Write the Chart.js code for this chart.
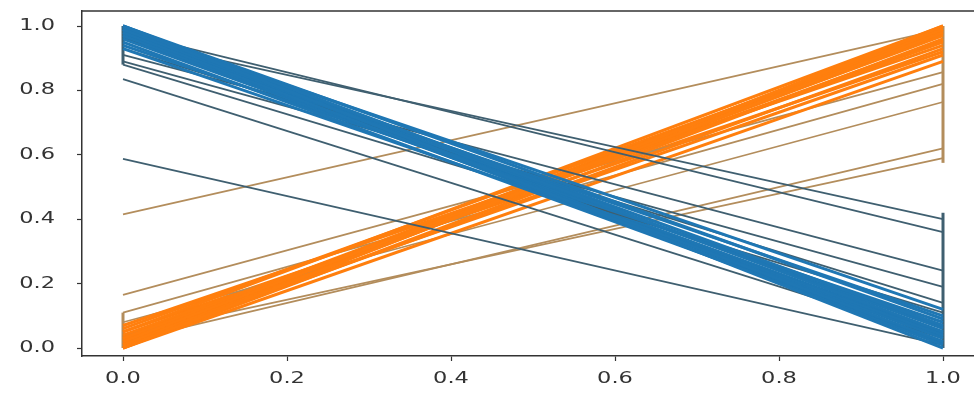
<!DOCTYPE html>
<html>
<head>
<meta charset="utf-8">
<script src="https://cdn.jsdelivr.net/npm/chart.js@4"></script>
<style>
html,body{margin:0;padding:0;background:#fff;}
#wrap{width:974px;height:393px;position:relative;}
</style>
</head>
<body>
<div id="wrap"><canvas id="c" width="974" height="393"></canvas></div>
<script>
// Blue series: value at x=0 and value at x=1
const blueStart = [1.00, 0.99, 0.98, 1.00, 0.97, 0.99, 0.96, 1.00, 0.98, 0.95, 0.97, 0.94, 0.99, 0.93, 0.96, 0.98, 0.91, 0.89, 0.93, 0.835, 0.587, 0.88, 0.995, 0.975, 0.985, 0.965];
const blueEnd   = [0.00, 0.02, 0.01, 0.05, 0.03, 0.07, 0.04, 0.09, 0.06, 0.02, 0.10, 0.08, 0.12, 0.05, 0.40, 0.36, 0.24, 0.19, 0.14, 0.03, 0.01, 0.11, 0.015, 0.045, 0.035, 0.065];
const blueOutlier = [0,0,0,0,0,0,0,0,0,0,0,0,0,0,1,1,1,1,1,1,1,1,0,0,0,0];
// Orange series: value at x=0 and value at x=1
const orangeStart = [0.00, 0.01, 0.02, 0.00, 0.03, 0.05, 0.01, 0.04, 0.02, 0.06, 0.00, 0.07, 0.03, 0.415, 0.165, 0.11, 0.08, 0.02, 0.04, 0.015, 0.05, 0.025, 0.035];
const orangeEnd   = [1.00, 0.98, 0.99, 0.96, 0.97, 1.00, 0.93, 0.95, 0.91, 0.98, 0.89, 0.94, 0.99, 0.99, 0.857, 0.82, 0.764, 0.62, 0.59, 0.975, 0.92, 0.985, 0.955];
const orangeOutlier = [0,0,0,0,0,0,0,0,0,0,0,0,0,1,1,1,1,1,1,0,0,0,0];
// Vertical connector segments [x, yFrom, yTo]
const blueVerticals = [[1, 0.0, 0.42], [0, 0.88, 1.0]];
const orangeVerticals = [[1, 0.575, 1.0], [0, 0.0, 0.11]];
// Axis ticks
const xTicks = [0.0, 0.2, 0.4, 0.6, 0.8, 1.0];
const yTicks = [0.0, 0.2, 0.4, 0.6, 0.8, 1.0];
const xTickLabels = ['0.0', '0.2', '0.4', '0.6', '0.8', '1.0'];
const yTickLabels = ['0.0', '0.2', '0.4', '0.6', '0.8', '1.0'];

const BLUE = '#1f77b4', BLUE_DARK = '#3f5f70';
const ORANGE = '#ff7f0e', ORANGE_DARK = '#b38d5c';

const datasets = [];
function seg(a, b, color, w) {
  return { data: [{x: 0, y: a}, {x: 1, y: b}], borderColor: color, borderWidth: w,
           pointRadius: 0, showLine: true, fill: false, tension: 0 };
}
blueStart.forEach((s, i) => datasets.push(seg(s, blueEnd[i], blueOutlier[i] ? BLUE_DARK : BLUE, blueOutlier[i] ? 1.8 : 3)));
orangeStart.forEach((s, i) => datasets.push(seg(s, orangeEnd[i], orangeOutlier[i] ? ORANGE_DARK : ORANGE, orangeOutlier[i] ? 1.8 : 3)));
blueVerticals.forEach(v => datasets.push({ data: [{x: v[0], y: v[1]}, {x: v[0], y: v[2]}], borderColor: BLUE_DARK, borderWidth: 3, pointRadius: 0, showLine: true }));
orangeVerticals.forEach(v => datasets.push({ data: [{x: v[0], y: v[1]}, {x: v[0], y: v[2]}], borderColor: ORANGE_DARK, borderWidth: 3, pointRadius: 0, showLine: true }));

// Draws the top frame line and horizontally stretched tick labels
const frameAndText = {
  id: 'frameAndText',
  afterDraw(chart) {
    const {ctx, chartArea} = chart;
    const xs = chart.scales.x, ys = chart.scales.y;
    ctx.save();
    ctx.strokeStyle = '#333';
    ctx.lineWidth = 1.5;
    ctx.beginPath();
    ctx.moveTo(chartArea.left, chartArea.top);
    ctx.lineTo(chartArea.right, chartArea.top);
    ctx.stroke();
    ctx.fillStyle = '#333';
    ctx.font = '15px "DejaVu Sans"';
    ctx.textBaseline = 'middle';
    const SX = 1.5;
    yTicks.forEach((v, i) => {
      ctx.save();
      ctx.translate(chartArea.left - 27, ys.getPixelForValue(v));
      ctx.scale(SX, 1);
      ctx.textAlign = 'right';
      ctx.fillText(yTickLabels[i], 0, 0);
      ctx.restore();
    });
    xTicks.forEach((v, i) => {
      ctx.save();
      ctx.translate(xs.getPixelForValue(v), chartArea.bottom + 23);
      ctx.scale(SX, 1);
      ctx.textAlign = 'center';
      ctx.fillText(xTickLabels[i], 0, 0);
      ctx.restore();
    });
    ctx.restore();
  }
};

const hidden = 'rgba(0,0,0,0)';
new Chart(document.getElementById('c'), {
  type: 'scatter',
  data: { datasets },
  options: {
    responsive: false,
    animation: false,
    layout: { padding: { top: 11, right: 0, left: 0, bottom: 0 } },
    plugins: { legend: { display: false }, tooltip: { enabled: false } },
    scales: {
      x: {
        type: 'linear', min: -0.05, max: 1.0378,
        afterBuildTicks: s => { s.ticks = xTicks.map(v => ({value: v})); },
        afterFit: s => { s.height = 37; },
        grid: { drawOnChartArea: false, tickLength: 5, color: '#333', tickWidth: 1.2 },
        border: { color: '#333', width: 1.5 },
        ticks: { color: hidden, font: { size: 2 }, padding: 4, maxRotation: 0, autoSkip: false, callback: v => v.toFixed(1) }
      },
      y: {
        type: 'linear', min: -0.0248, max: 1.0466,
        afterBuildTicks: s => { s.ticks = yTicks.map(v => ({value: v})); },
        afterFit: s => { s.width = 82; },
        grid: { drawOnChartArea: false, tickLength: 5, color: '#333', tickWidth: 1.2 },
        border: { color: '#333', width: 1.5 },
        ticks: { color: hidden, font: { size: 2 }, padding: 8, callback: v => v.toFixed(1) }
      }
    }
  },
  plugins: [frameAndText]
});
</script>
</body>
</html>
